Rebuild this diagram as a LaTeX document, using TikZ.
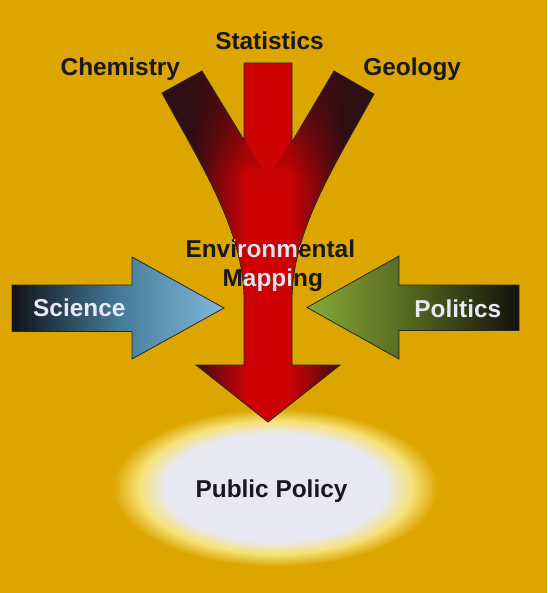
\documentclass[tikz,border=0pt]{standalone}
\usepackage{fontspec}
\setmainfont{Liberation Sans}
\usetikzlibrary{fadings}

\definecolor{bgGold}{RGB}{221,165,0}
\definecolor{mapRed}{RGB}{204,2,4}
\definecolor{mapDark}{RGB}{46,14,18}
\definecolor{sciDark}{RGB}{16,18,24}
\definecolor{sciMid}{RGB}{68,122,152}
\definecolor{sciLight}{RGB}{128,186,216}
\definecolor{polLight}{RGB}{134,170,56}
\definecolor{polMid}{RGB}{82,100,30}
\definecolor{polDark}{RGB}{18,18,12}
\definecolor{policyWhite}{RGB}{232,232,242}
\definecolor{glowYellow}{RGB}{246,226,120}
\definecolor{inkDark}{RGB}{24,24,30}
\definecolor{inkLight}{RGB}{236,222,226}

\pgfdeclareradialshading{policyglow}{\pgfpoint{0bp}{0bp}}{color(0bp)=(policyWhite); color(17bp)=(policyWhite); color(21bp)=(glowYellow); color(25bp)=(bgGold); color(50bp)=(bgGold)}
\pgfdeclarehorizontalshading{mapshade}{100bp}{color(0bp)=(mapDark); color(32bp)=(mapDark); color(45bp)=(mapRed); color(55bp)=(mapRed); color(68bp)=(mapDark); color(100bp)=(mapDark)}
\tikzfading[name=branchfade, top color=transparent!0, bottom color=transparent!100, middle color=transparent!35]

% outline of the mapping arrow (three branches into one)
\newcommand{\mappingpath}{(244,63) -- (292,63) -- (292,142) -- (334,71) -- (374,94)
  .. controls (333,168) and (292,232) .. (292,300) -- (292,365) -- (340,365) -- (268,422)
  -- (196,365) -- (244,365) -- (244,300) .. controls (244,232) and (203,168) .. (162,93)
  -- (202,71) -- (244,140) -- cycle}

\begin{document}
\begin{tikzpicture}[x=1pt, y=-1pt, line join=miter,
    fieldtext/.style={anchor=base, inner sep=0pt, text=inkDark, font=\fontsize{24.4}{29}\selectfont\bfseries},
    arrowtext/.style={fieldtext, text=policyWhite},
    outline/.style={draw=black!85, line width=0.8pt}]
        \fill[bgGold] (0,0) rectangle (547,593);
        \useasboundingbox (0,0) rectangle (547,593);

        % glow round the policy
        \shade[shading=policyglow] (275.5,487.5) ellipse [x radius=163pt, y radius=79pt];

        % mapping arrow
        \begin{scope}
            \clip \mappingpath;
            \shade[shading=mapshade] (160,60) rectangle (376,425);
            % darker ends of the side branches
            \fill[mapDark, path fading=branchfade, fill opacity=0.85] (150,55) -- (193,55) -- (244,140) -- (268,178) -- (150,178) -- cycle;
            \fill[mapDark, path fading=branchfade, fill opacity=0.85] (386,55) -- (343,55) -- (292,140) -- (268,178) -- (386,178) -- cycle;
        \end{scope}
        \draw[outline] \mappingpath;

        % side arrows
        \shade[outline, left color=sciDark, right color=sciLight, middle color=sciMid]
            (12,285) -- (132,285) -- (132,257) -- (224,308) -- (132,359) -- (132,331.5) -- (12,331.5) -- cycle;
        \shade[outline, left color=polLight, right color=polDark, middle color=polMid]
            (519,285) -- (399,285) -- (399,256) -- (307,307.5) -- (399,359) -- (399,330.5) -- (519,330.5) -- cycle;

        \node[fieldtext](statistics) at (269.5, 49.5) {Statistics};
        \node[fieldtext](chemistry) at (120.3, 76) {Chemistry};
        \node[fieldtext](geology) at (412.2, 75.5) {Geology};

        \node[fieldtext](environmental) at (270.3, 257) {Environmental};
        \node[fieldtext](mapping) at (272.8, 286) {Mapping};
        \begin{scope}
            \clip \mappingpath;
            \node[fieldtext, text=inkLight] at (270.3, 257) {Environmental};
            \node[fieldtext, text=inkLight] at (272.8, 286) {Mapping};
        \end{scope}

        \node[arrowtext](science) at (79.3, 316) {Science};
        \node[arrowtext](politics) at (457.8, 317.5) {Politics};

        \node[fieldtext](policy) at (271.5, 497) {Public Policy};
    \end{tikzpicture}
\end{document}
